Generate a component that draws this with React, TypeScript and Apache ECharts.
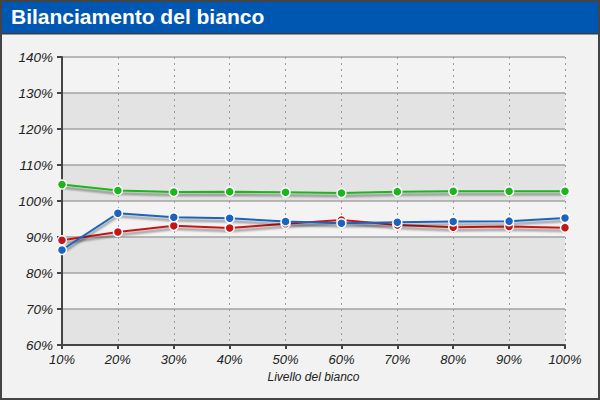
import React, { useEffect, useRef } from "react";
import * as echarts from "echarts";

const categories = ["10%", "20%", "30%", "40%", "50%", "60%", "70%", "80%", "90%", "100%"];
const greenValues = [104.6, 102.9, 102.5, 102.6, 102.4, 102.2, 102.6, 102.7, 102.7, 102.7];
const redValues = [89.1, 91.4, 93.1, 92.5, 93.7, 94.7, 93.3, 92.7, 92.9, 92.6];
const blueValues = [86.4, 96.6, 95.5, 95.2, 94.3, 93.8, 94.1, 94.3, 94.4, 95.3];
const titleText = "Bilanciamento del bianco";
const xAxisName = "Livello del bianco";

const FONT = "Liberation Sans, Arial, Helvetica, sans-serif";

function mkSeries(name: string, data: number[], color: string) {
  return {
    name,
    type: "line",
    data,
    symbol: "circle",
    symbolSize: 9,
    itemStyle: { color, borderColor: "#ffffff", borderWidth: 1.5 },
    lineStyle: {
      color,
      width: 2,
      shadowColor: "rgba(0,0,0,0.45)",
      shadowBlur: 2,
      shadowOffsetY: 3,
    },
    emphasis: { disabled: true },
    z: 3,
  };
}

export default function App() {
  const ref = useRef<HTMLDivElement>(null);
  useEffect(() => {
    if (!ref.current) return;
    const chart = echarts.init(ref.current, null, { renderer: "svg" });
    chart.setOption({
      animation: false,
      backgroundColor: "#f2f2f2",
      graphic: [
        {
          type: "rect",
          shape: { x: 0, y: 0, width: 600, height: 33 },
          style: { fill: "#0057b2" },
          z: 10,
        },
        {
          type: "rect",
          shape: { x: 0, y: 33, width: 600, height: 1.5 },
          style: { fill: "#3a3a3a" },
          z: 10,
        },
        {
          type: "rect",
          shape: { x: 1, y: 1, width: 598, height: 398 },
          style: { fill: "none", stroke: "#444444", lineWidth: 2 },
          z: 11,
        },
        {
          type: "text",
          x: 11,
          y: 6,
          style: {
            text: titleText,
            fill: "#ffffff",
            font: `bold 21px ${FONT}`,
          },
          z: 12,
        },
      ],
      grid: { left: 62, right: 35, top: 57, bottom: 55 },
      xAxis: {
        type: "category",
        data: categories,
        boundaryGap: false,
        name: xAxisName,
        nameLocation: "middle",
        nameGap: 26,
        nameTextStyle: { fontFamily: FONT, fontStyle: "italic", fontSize: 12, color: "#222" },
        axisLine: { lineStyle: { color: "#444", width: 2 } },
        axisTick: { show: true, length: 4, lineStyle: { color: "#444", width: 2 } },
        axisLabel: {
          fontFamily: FONT,
          fontStyle: "italic",
          fontSize: 13,
          color: "#222",
          margin: 8,
        },
        splitLine: { show: true, lineStyle: { type: [2, 4], color: "#9a9a9a", width: 1 } },
      },
      yAxis: {
        type: "value",
        min: 60,
        max: 140,
        interval: 10,
        axisLine: { show: true, lineStyle: { color: "#444", width: 2 } },
        axisTick: { show: true, length: 5, lineStyle: { color: "#444", width: 2 } },
        axisLabel: {
          fontFamily: FONT,
          fontStyle: "italic",
          fontSize: 13.5,
          color: "#222",
          margin: 9,
          formatter: "{value}%",
        },
        splitLine: { show: true, lineStyle: { color: "#a3a3a3", width: 1.5 } },
        splitArea: { show: true, areaStyle: { color: ["#e3e3e3", "#f3f3f3"] } },
      },
      series: [
        mkSeries("Verde", greenValues, "#1cb51c"),
        mkSeries("Rosso", redValues, "#c41616"),
        mkSeries("Blu", blueValues, "#1b63c1"),
      ],
    });
    return () => chart.dispose();
  }, []);
  return (
    <div
      ref={ref}
      style={{ position: "absolute", left: 0, top: 0, width: 600, height: 400 }}
    />
  );
}
